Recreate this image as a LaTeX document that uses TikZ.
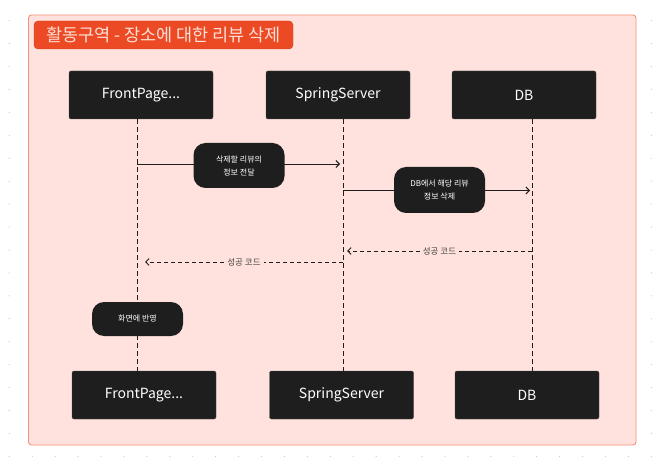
\documentclass[tikz,border=0pt]{standalone}
\usepackage{fontspec}
\setmainfont{Noto Sans CJK KR}
\usetikzlibrary{arrows.meta,positioning}
\definecolor{zonefill}{HTML}{FFE2DD}
\definecolor{zoneline}{HTML}{F4907B}
\definecolor{titlered}{HTML}{EB4A24}
\definecolor{titletext}{HTML}{FFE0D8}
\definecolor{boxblack}{HTML}{1E1E1E}
\definecolor{labelgray}{HTML}{444444}
\definecolor{dotgray}{HTML}{C4C4C4}

\begin{document}
\begin{tikzpicture}[x=1pt,y=-1pt,>={Straight Barb[length=3.5pt,width=7pt]},
actor/.style = {draw=boxblack!80, fill=boxblack, rounded corners=2pt, minimum width=144pt, minimum height=48pt, inner sep=0pt, text=white, font=\fontsize{14}{16}\selectfont},
msg/.style = {fill=boxblack, rounded corners=12pt, minimum width=91pt, inner sep=0pt, text=white, align=center, font=\fontsize{8}{13}\selectfont},
reply/.style = {fill=zonefill, inner sep=3pt, text=labelgray, font=\fontsize{8.5}{10}\selectfont},
life/.style = {draw=boxblack, line width=0.8pt, dash pattern=on 5pt off 3pt},
call/.style = {draw=boxblack, line width=0.9pt, ->},
back/.style = {draw=boxblack, line width=0.9pt, dash pattern=on 4pt off 3pt, ->}]
\useasboundingbox (0,0) rectangle (663,462);
\foreach \i in {0,...,28}
  \foreach \j in {0,...,19}
    \fill[dotgray] (9.3+22.93*\i,20.7+22.93*\j) circle (0.6pt);
\draw[draw=zoneline, fill=zonefill, line width=0.9pt, rounded corners=3pt] (28.5,15) rectangle (636,445);
\node (title) at (163.5,35) [fill=titlered, draw=titlered!85!black, rounded corners=4pt, minimum width=259pt, minimum height=28pt, inner sep=0pt, text=titletext, font=\fontsize{17.5}{19}\selectfont] {활동구역 - 장소에 대한 리뷰 삭제};

\node (F1) at (141,95)[actor] {FrontPage...};
\node (S1) at (338,95)[actor] {SpringServer};
\node (D1) at (524,95)[actor] {DB};
\node (F2) at (144,395)[actor] {FrontPage...};
\node (S2) at (341.5,395)[actor] {SpringServer};
\node (D2) at (527,395)[actor] {DB};

\coordinate (fTop) at (137,119);
\coordinate (fBot) at (137,371);
\coordinate (sTop) at (343,119);
\coordinate (sBot) at (343,371);
\coordinate (dTop) at (532,119);
\coordinate (dBot) at (532,371);
\draw[life] (fTop)--(fBot);
\draw[life] (sTop)--(sBot);
\draw[life] (dTop)--(dBot);

\coordinate (f1) at (137,164);
\coordinate (s1) at (340,164);
\coordinate (s2) at (343,190.5);
\coordinate (d2) at (530,190.5);
\coordinate (d3) at (532,251);
\coordinate (s3) at (347,251);
\coordinate (s4) at (343,262);
\coordinate (f4) at (145,262);

\draw[call] (f1)--(s1);
\node (ask) at (239,165.5)[msg, minimum height=45pt] {삭제할 리뷰의\\정보 전달};
\draw[call] (s2)--(d2);
\node (erase) at (439.5,190)[msg, minimum height=46pt] {DB에서 해당 리뷰\\정보 삭제};
\draw[back] (d3)--node[reply] {성공 코드}(s3);
\draw[back] (s4)--node[reply] {성공 코드}(f4);
\node (show) at (137.5,319)[msg, minimum height=34pt] {화면에 반영};
\end{tikzpicture}
\end{document}
